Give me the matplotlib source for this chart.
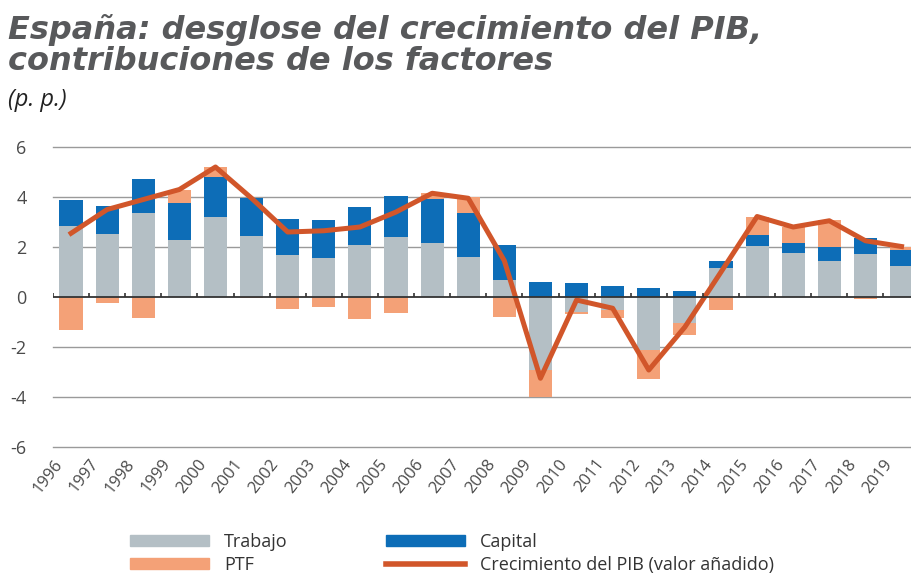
import numpy as np
import matplotlib
matplotlib.use("Agg")
import matplotlib.pyplot as plt
from matplotlib.patches import Patch
from matplotlib.lines import Line2D

plt.rcParams['font.family'] = ['Open Sans', 'DejaVu Sans']

# datos (p. p.)
years = [str(y) for y in range(1996, 2020)]
trabajo = [2.84, 2.52, 3.35, 2.28, 3.19, 2.44, 1.68, 1.55, 2.08, 2.39, 2.17, 1.61,
           0.68, -2.92, -0.60, -0.52, -2.12, -1.05, 1.17, 2.04, 1.75, 1.44, 1.71, 1.24]
capital = [1.04, 1.12, 1.36, 1.47, 1.62, 1.53, 1.43, 1.53, 1.53, 1.65, 1.74, 1.76,
           1.40, 0.61, 0.57, 0.44, 0.35, 0.25, 0.28, 0.44, 0.42, 0.57, 0.64, 0.64]
ptf = [-1.32, -0.25, -0.85, 0.53, 0.40, -0.03, -0.49, -0.41, -0.87, -0.63, 0.24, 0.64,
       -0.79, -1.07, -0.09, -0.33, -1.16, -0.47, -0.52, 0.71, 0.64, 1.07, -0.09, 0.13]
pib = [2.55, 3.50, 3.90, 4.30, 5.20, 3.95, 2.60, 2.65, 2.80, 3.40, 4.15, 3.95,
       1.45, -3.25, -0.12, -0.45, -2.92, -1.20, 1.00, 3.22, 2.80, 3.05, 2.25, 2.02]

c_trab = '#b4bfc5'
c_cap = '#0d6db7'
c_ptf = '#f4a177'
c_pib = '#d1562a'
c_txt = '#4a4a4a'

fig = plt.figure(figsize=(9.12, 5.74), dpi=100)
ax = fig.add_axes([53 / 912, 0.2125, 1 - 53 / 912, 0.5401])

x = np.arange(len(years))
pos = np.zeros(len(years))
neg = np.zeros(len(years))
for vals, col in [(trabajo, c_trab), (capital, c_cap), (ptf, c_ptf)]:
    v = np.array(vals)
    bottom = np.where(v >= 0, pos, neg)
    ax.bar(x, v, 0.64, bottom=bottom, color=col, zorder=2)
    pos = pos + np.where(v >= 0, v, 0)
    neg = neg + np.where(v < 0, v, 0)

ax.plot(x, pib, color=c_pib, lw=3.6, zorder=3, solid_joinstyle='round')

for g in [6, 4, 2, -2, -4, -6]:
    ax.axhline(g, color='#9a9a9a', lw=1.0, zorder=1, clip_on=False)
ax.axhline(0, color='#333333', lw=1.3, zorder=4)
ax.vlines(np.arange(len(years) + 1) - 0.5, 0, 0.18, color='#333333', lw=1.2, zorder=4)

ax.set_xlim(-0.5, 23.29)
ax.set_ylim(-6.2, 6.2)
ax.set_yticks([-6, -4, -2, 0, 2, 4, 6])
ax.set_yticklabels(['-6', '-4', '-2', '0', '2', '4', '6'], fontsize=13, color=c_txt)
ax.set_xticks(x - 0.5)
ax.set_xticklabels(years, rotation=52, ha='right', va='top', rotation_mode='anchor',
                   fontsize=12, color=c_txt)
ax.tick_params(axis='both', length=0)
ax.tick_params(axis='y', pad=19)
ax.tick_params(axis='x', pad=3)
for s in ax.spines.values():
    s.set_visible(False)

fig.text(8 / 912, 1 - 14 / 574, 'España: desglose del crecimiento del PIB,\ncontribuciones de los factores',
         family='DejaVu Sans', fontsize=23, fontweight='bold', fontstyle='italic', color='#58595b',
         va='top', linespacing=0.98)
fig.text(8 / 912, 1 - 106 / 574, '(p. p.)', fontsize=17, fontstyle='italic', color='#222222',
         va='baseline')

handles = [Patch(color=c_trab), Patch(color=c_ptf), Patch(color=c_cap),
           Line2D([], [], color=c_pib, lw=4)]
labels = ['Trabajo', 'PTF', 'Capital', 'Crecimiento del PIB (valor añadido)']
fig.legend(handles, labels, ncol=2, loc='upper left', bbox_to_anchor=(130 / 912, 1 - 533 / 574),
           frameon=False, fontsize=13, handlelength=4.4, handleheight=0.55,
           handletextpad=0.8, columnspacing=5.45, labelspacing=0.25, borderpad=0,
           borderaxespad=0, labelcolor='#333333')

fig.savefig('out.png', dpi=100)
